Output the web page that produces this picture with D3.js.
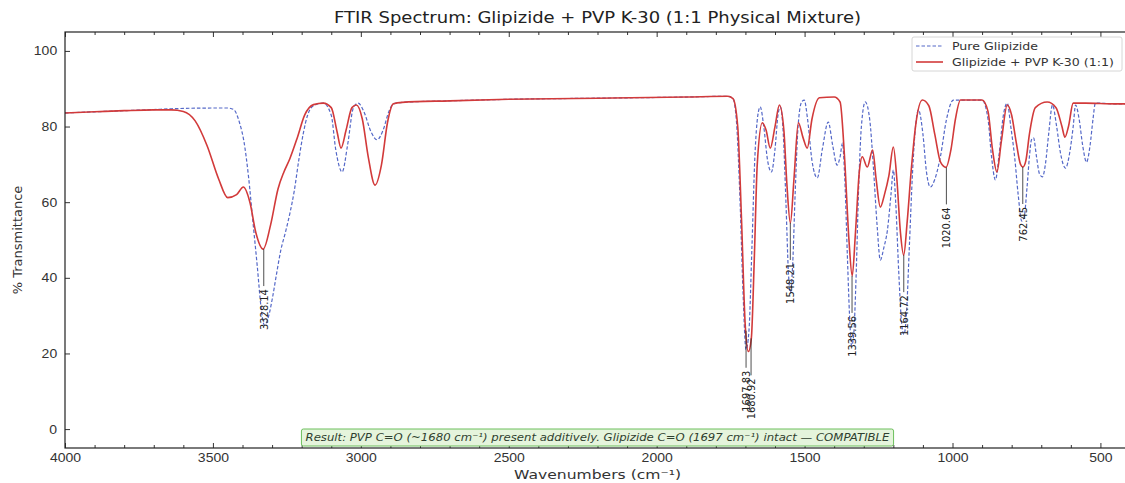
<!DOCTYPE html>
<html>
<head>
<meta charset="utf-8">
<script src="https://cdn.jsdelivr.net/npm/d3@7"></script>
<style>
  body { margin: 0; background: #fff; }
  svg { font-family: "DejaVu Sans", sans-serif; }
</style>
</head>
<body>
<svg id="ftir"></svg>
<script>
const WIDTH = 1125, HEIGHT = 483;

// wavenumber (cm-1), % transmittance
const pureGlipizide = [
  [4000, 83.6], [3900, 83.9], [3800, 84.2], [3700, 84.5], [3640, 84.7], [3500, 84.9],
  [3450, 84.9], [3430, 84.5], [3410, 81], [3395, 76], [3380, 67], [3365, 55], [3350, 43],
  [3337, 32], [3326, 27.5], [3313, 29.5], [3298, 35], [3285, 41], [3270, 47.5], [3255, 52],
  [3240, 57], [3225, 63], [3210, 71], [3195, 78], [3180, 83], [3160, 85.5], [3127, 86.2],
  [3100, 83], [3085, 74], [3063, 68], [3045, 75], [3025, 85], [3009, 86.2], [2990, 84],
  [2965, 78.5], [2945, 76.5], [2925, 79], [2905, 84], [2890, 86], [2860, 86.4], [2700, 86.8],
  [2500, 87.2], [2200, 87.5], [1900, 87.8], [1760, 88], [1742, 87.4], [1730, 81], [1718, 60],
  [1708, 36], [1698, 21], [1688, 26], [1678, 48], [1668, 72], [1658, 83], [1650, 85.2],
  [1638, 80], [1625, 71], [1612, 68], [1600, 74], [1590, 83], [1582, 85.2], [1572, 78],
  [1563, 60], [1555, 42], [1548, 36], [1540, 44], [1532, 62], [1522, 80], [1510, 86.5],
  [1501, 87], [1490, 82], [1475, 71], [1457, 66.4], [1440, 74], [1420, 81.2], [1405, 75],
  [1390, 69.8], [1380, 72], [1372, 75.6], [1364, 66], [1355, 45], [1348, 30], [1341, 22],
  [1334, 25], [1326, 40], [1318, 62], [1308, 80], [1295, 86.5], [1280, 82], [1268, 70],
  [1255, 54], [1244, 44.7], [1232, 48], [1220, 52.6], [1208, 62], [1200, 68.5], [1192, 60],
  [1182, 42], [1172, 28], [1164, 25], [1156, 30], [1146, 48], [1135, 68], [1125, 80],
  [1115, 84.4], [1100, 78], [1088, 68], [1075, 64], [1060, 66], [1041, 72], [1020, 82],
  [997, 87], [900, 87], [880, 82], [868, 72], [855, 65.9], [842, 73], [828, 83], [815, 86.2],
  [803, 80], [790, 72], [778, 62], [766, 55], [758, 56], [748, 64], [740, 72], [733, 76.5],
  [726, 77], [716, 72], [706, 67.5], [696, 66.7], [686, 70], [675, 78], [662, 85.7],
  [648, 80], [635, 73], [618, 69], [604, 73], [592, 80], [584, 85.7], [572, 82], [560, 75],
  [547, 70.6], [535, 75], [525, 82], [517, 86.2], [450, 86], [400, 86]
];

const mixture = [
  [4000, 83.6], [3900, 83.9], [3800, 84.2], [3700, 84.4], [3640, 84.4], [3600, 84.0],
  [3560, 81.5], [3520, 75], [3480, 66], [3450, 61.2], [3420, 62], [3397, 64], [3375, 60],
  [3355, 52], [3330, 47.6], [3305, 54], [3280, 63.5], [3260, 68], [3240, 71.5], [3215, 77],
  [3190, 83], [3160, 85.8], [3127, 86.2], [3100, 85], [3080, 78.5], [3067, 74.3], [3050, 79],
  [3030, 85], [3015, 85.7], [2995, 82], [2975, 72], [2952, 64.5], [2930, 70], [2910, 81],
  [2890, 86], [2860, 86.4], [2700, 86.8], [2500, 87.2], [2200, 87.5], [1900, 87.8],
  [1760, 88], [1742, 87.4], [1726, 80], [1713, 55], [1701, 28], [1690, 20.5], [1680, 24],
  [1670, 45], [1660, 70], [1643, 81], [1630, 79], [1616, 74.3], [1600, 80], [1585, 85.7],
  [1570, 79], [1560, 65], [1548, 54.5], [1536, 66], [1521, 81], [1505, 77], [1491, 74.3],
  [1475, 82], [1450, 87.6], [1400, 87.8], [1380, 86.5], [1365, 72], [1350, 50], [1339, 40.5],
  [1328, 52], [1315, 68], [1305, 72], [1288, 69.3], [1270, 73.8], [1258, 66], [1244, 58.7],
  [1230, 62], [1215, 67], [1200, 74.6], [1188, 66], [1176, 52], [1165, 46], [1153, 55],
  [1140, 68], [1125, 80], [1102, 87], [1080, 85.5], [1060, 78], [1040, 70.5], [1022, 69.2],
  [1005, 74], [990, 82], [973, 87], [900, 87], [880, 84], [865, 74], [850, 68], [835, 76],
  [815, 85.7], [800, 83], [785, 76], [770, 70], [762, 69.3], [752, 71], [740, 78], [720, 85],
  [680, 86.5], [650, 85], [630, 80], [620, 77.2], [608, 80], [592, 86.2], [550, 86.2],
  [450, 86], [400, 86]
];

// labelled bands on the mixture trace: [wavenumber, transmittance at band, label]
const peakLabels = [
  [3328.14, 47.6, "3328.14"], [1697.83, 26, "1697.83"], [1680.92, 24, "1680.92"],
  [1548.21, 54.5, "1548.21"], [1339.56, 40.5, "1339.56"], [1164.72, 46, "1164.72"],
  [1020.64, 69.2, "1020.64"], [762.45, 69.3, "762.45"]
];

const xMajorTicks = [4000, 3500, 3000, 2500, 2000, 1500, 1000, 500];
const xMinorTicks = d3.range(3900, 399, -100).filter(v => v % 500 !== 0);
const yTicks = [0, 20, 40, 60, 80, 100];

const seriesNames = ["Pure Glipizide", "Glipizide + PVP K-30 (1:1)"];
const resultNote = "Result: PVP C=O (~1680 cm\u207B\u00B9) present additively. Glipizide C=O (1697 cm\u207B\u00B9) intact \u2014 COMPATIBLE";

const margin = { top: 32, left: 65 };
const plotRight = 1130, plotBottom = 448;
const stretch = 1.2;   // the picture is wider than tall, text reads stretched

const svg = d3.select("svg#ftir").attr("width", WIDTH).attr("height", HEIGHT);

const x = d3.scaleLinear().domain([4000, 400]).range([margin.left, plotRight]);
const y = d3.scaleLinear().domain([-5, 105]).range([plotBottom, margin.top]);

svg.append("clipPath").attr("id", "plotClip")
  .append("rect")
    .attr("x", margin.left).attr("y", margin.top)
    .attr("width", plotRight - margin.left).attr("height", plotBottom - margin.top);

// axes, ticks pointing inwards on all four sides
const styleAxis = (g) => {
  g.select(".domain").remove();
  g.selectAll("line").attr("stroke", "#333").attr("stroke-width", 1);
  g.selectAll("text")
    .attr("fill", "#333")
    .attr("transform", "scale(1.12,1)")
    .style("font-size", "12.5px");
};

svg.append("g").attr("transform", `translate(0,${plotBottom})`)
  .call(d3.axisBottom(x).tickValues(xMajorTicks).tickSize(-5).tickPadding(5).tickFormat(d3.format("d")))
  .call(styleAxis);
svg.append("g").attr("transform", `translate(0,${plotBottom})`)
  .call(d3.axisBottom(x).tickValues(xMinorTicks).tickSize(-3).tickFormat(""))
  .call(styleAxis);
svg.append("g").attr("transform", `translate(0,${margin.top})`)
  .call(d3.axisTop(x).tickValues(xMajorTicks).tickSize(-5).tickFormat(""))
  .call(styleAxis);
svg.append("g").attr("transform", `translate(0,${margin.top})`)
  .call(d3.axisTop(x).tickValues(xMinorTicks).tickSize(-3).tickFormat(""))
  .call(styleAxis);
svg.append("g").attr("transform", `translate(${margin.left},0)`)
  .call(d3.axisLeft(y).tickValues(yTicks).tickSize(-5).tickPadding(7))
  .call(styleAxis);
svg.append("g").attr("transform", `translate(${plotRight},0)`)
  .call(d3.axisRight(y).tickValues(yTicks).tickSize(-5).tickFormat(""))
  .call(styleAxis);

// curves
const line = d3.line()
  .x(d => x(d[0]))
  .y(d => y(d[1]))
  .curve(d3.curveMonotoneX);

const curves = svg.append("g").attr("clip-path", "url(#plotClip)");

curves.append("path")
  .datum(pureGlipizide)
  .attr("d", line)
  .attr("fill", "none")
  .attr("stroke", "#5468c8")
  .attr("stroke-width", 1.2)
  .attr("stroke-dasharray", "3.5,2");

curves.append("path")
  .datum(mixture)
  .attr("d", line)
  .attr("fill", "none")
  .attr("stroke", "#d23a3a")
  .attr("stroke-width", 1.6);

// band labels under the mixture minima
const labelOffset = 40;
const labels = svg.append("g").attr("clip-path", "url(#plotClip)");
labels.selectAll("line.peak")
  .data(peakLabels)
  .join("line")
    .attr("class", "peak")
    .attr("x1", d => x(d[0])).attr("x2", d => x(d[0]))
    .attr("y1", d => y(d[1])).attr("y2", d => y(d[1]) + labelOffset - 3)
    .attr("stroke", "#222").attr("stroke-width", 0.8);
labels.selectAll("text.peak")
  .data(peakLabels)
  .join("text")
    .attr("class", "peak")
    .attr("transform", d => `translate(${x(d[0])},${y(d[1]) + labelOffset}) rotate(-90)`)
    .attr("text-anchor", "end")
    .attr("dy", "0.35em")
    .style("font-size", "11px")
    .style("font-family", "'DejaVu Sans Condensed', 'DejaVu Sans', sans-serif")
    .attr("fill", "#222")
    .text(d => d[2]);

// frame
svg.append("rect")
  .attr("x", margin.left).attr("y", margin.top)
  .attr("width", plotRight - margin.left).attr("height", plotBottom - margin.top)
  .attr("fill", "none").attr("stroke", "#222").attr("stroke-width", 1.2);

// result note
const cx = (margin.left + plotRight) / 2;
const note = svg.append("g");
const noteText = note.append("text")
  .attr("transform", `translate(${cx},441) scale(1.17,1)`)
  .attr("text-anchor", "middle")
  .style("font-size", "10px")
  .style("font-style", "italic")
  .attr("fill", "#2f3f2f")
  .text(resultNote);
const nw = noteText.node().getBBox().width * 1.17;
note.insert("rect", "text")
  .attr("x", cx - nw / 2 - 4).attr("y", 429)
  .attr("width", nw + 8).attr("height", 17)
  .attr("rx", 2)
  .attr("fill", "#e5f4dc").attr("stroke", "#6cbf5c").attr("stroke-width", 1);

// legend
const legend = svg.append("g").attr("transform", "translate(912,37)");
legend.append("rect")
  .attr("width", 210).attr("height", 34).attr("rx", 2)
  .attr("fill", "#fff").attr("fill-opacity", 0.85)
  .attr("stroke", "#ccc").attr("stroke-width", 0.8);
const legendStyles = [
  { stroke: "#5468c8", width: 1.2, dash: "3.5,2" },
  { stroke: "#d23a3a", width: 1.6, dash: null }
];
seriesNames.forEach((name, i) => {
  const row = legend.append("g").attr("transform", `translate(0,${9 + i * 16})`);
  row.append("line")
    .attr("x1", 4).attr("x2", 31).attr("y1", 0).attr("y2", 0)
    .attr("stroke", legendStyles[i].stroke)
    .attr("stroke-width", legendStyles[i].width)
    .attr("stroke-dasharray", legendStyles[i].dash);
  row.append("text")
    .attr("transform", `translate(40,0) scale(${stretch},1)`)
    .attr("dy", "0.35em")
    .style("font-size", "10.5px")
    .attr("fill", "#333")
    .text(name);
});

// titles
svg.append("text")
  .attr("transform", `translate(${cx},23) scale(${stretch},1)`)
  .attr("text-anchor", "middle")
  .style("font-size", "15px")
  .attr("fill", "#222")
  .text("FTIR Spectrum: Glipizide + PVP K-30 (1:1 Physical Mixture)");

svg.append("text")
  .attr("transform", `translate(${cx},479) scale(${stretch},1)`)
  .attr("text-anchor", "middle")
  .style("font-size", "13px")
  .attr("fill", "#333")
  .text("Wavenumbers (cm\u207B\u00B9)");

svg.append("text")
  .attr("transform", `translate(22,${(margin.top + plotBottom) / 2}) rotate(-90)`)
  .attr("text-anchor", "middle")
  .style("font-size", "13px")
  .attr("fill", "#333")
  .text("% Transmittance");
</script>
</body>
</html>
